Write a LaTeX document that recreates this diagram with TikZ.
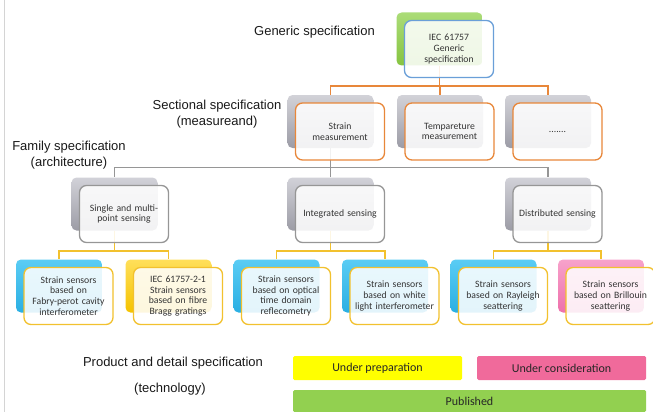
\documentclass[tikz,border=0pt]{standalone}
\usepackage{fontspec}
\setmainfont{Liberation Sans}
\newfontfamily\boxfnt{Carlito}
\pgfdeclarelayer{bg}
\pgfsetlayers{bg,main}
\definecolor{gtop}{HTML}{ABDC78}
\definecolor{gbot}{HTML}{86C440}
\definecolor{graytop}{HTML}{D2D2D8}
\definecolor{graybot}{HTML}{9C9CA6}
\definecolor{btop}{HTML}{5ACCF4}
\definecolor{bbot}{HTML}{2AAFE3}
\definecolor{ytop}{HTML}{FFDF5A}
\definecolor{ybot}{HTML}{F5C300}
\definecolor{ptop}{HTML}{F7A2CB}
\definecolor{pbot}{HTML}{EE70AB}
\definecolor{blueline}{HTML}{6A9FD8}
\definecolor{orangeline}{HTML}{E8873A}
\definecolor{grayline}{HTML}{969696}
\definecolor{yellowline}{HTML}{F2C12E}
\definecolor{legyellow}{HTML}{FFFF00}
\definecolor{legpink}{HTML}{F06A9B}
\definecolor{leggreen}{HTML}{92D050}
\definecolor{framegray}{HTML}{D4D4D4}
\tikzset{
  backbox/.style={rectangle, rounded corners=5pt, minimum width=86pt, minimum height=53pt, inner sep=0pt},
  frontbox/.style={rectangle, rounded corners=7pt, minimum width=89pt, minimum height=57pt,
    fill=white, fill opacity=0.87, text opacity=1, line width=1.3pt, align=center,
    text width=86pt, inner sep=0pt, font=\boxfnt\fontsize{9.7}{10.7}\selectfont, text=black!80},
  greenback/.style={top color=gtop, bottom color=gbot},
  grayback/.style={top color=graytop, bottom color=graybot},
  blueback/.style={top color=btop, bottom color=bbot},
  yellowback/.style={top color=ytop, bottom color=ybot},
  pinkback/.style={top color=ptop, bottom color=pbot},
  orangeconn/.style={draw=orangeline, line width=1.2pt},
  grayconn/.style={draw=grayline, line width=1.2pt},
  yellowconn/.style={draw=yellowline, line width=1.2pt},
  lvl/.style={font=\fontsize{13}{16}\selectfont, align=center, inner sep=0pt, text=black!90},
  legbox/.style={rectangle, rounded corners=1.5pt, inner sep=0pt, minimum height=24pt,
    font=\boxfnt\fontsize{12}{14}\selectfont, text=black!85},
}
\newcommand\twobox[6]{%
  \node[backbox,#4] (#1-b) at (#2,#3) {};
  \node[frontbox,#5] (#1) at ({#2+9.5},{#3+10}) {#6};}
\begin{document}
\begin{tikzpicture}[x=1pt,y=-1pt]
\useasboundingbox (0,0) rectangle (653,412);
\draw[framegray, line width=0.8pt] (4.5,0) -- (4.5,412);

% level labels
\node[lvl] (lg) at (314.5,32) {Generic specification};
\node[lvl] (ls) at (217,114) {Sectional specification\\(measureand)};
\node[lvl] (lf) at (69,155) {Family specification\\(architecture)};
\node[lvl] (lp1) at (173,363) {Product and detail specification};
\node[lvl] (lp2) at (170,389) {(technology)};

% generic
\twobox{g}{439.5}{39}{greenback}{draw=blueline}{IEC 61757\\Generic\\specification}
% sectional
\twobox{s1}{330.5}{121.5}{grayback}{draw=orangeline}{Strain\\measurement}
\twobox{s2}{440}{121.5}{grayback}{draw=orangeline}{Tempareture\\measurement}
\twobox{s3}{548}{121.5}{grayback}{draw=orangeline}{.......}
% family
\twobox{f1}{114.5}{204}{grayback}{draw=grayline}{Single and multi-\\point sensing}
\twobox{f2}{330.5}{204}{grayback}{draw=grayline}{Integrated sensing}
\twobox{f3}{548}{204}{grayback}{draw=grayline}{Distributed sensing}
% leaves
\twobox{p1}{59}{286}{blueback}{draw=yellowline}{Strain sensors\\based on\\Fabry-perot cavity\\interferometer}
\twobox{p2}{168.5}{286}{yellowback}{draw=yellowline}{IEC 61757-2-1\\Strain sensors\\based on fibre\\Bragg gratings}
\twobox{p3}{276.5}{286}{blueback}{draw=yellowline}{Strain sensors\\based on optical\\time domain\\reflecometry}
\twobox{p4}{385}{286}{blueback}{draw=yellowline}{Strain sensors\\based on white\\light interferometer}
\twobox{p5}{493.5}{286}{blueback}{draw=yellowline}{Strain sensors\\based on Rayleigh\\seattering}
\twobox{p6}{601}{286}{pinkback}{draw=yellowline}{Strain sensors\\based on Brillouin\\seattering}

% bus levels
\coordinate (bus1) at (0,86);
\coordinate (bus2) at (0,167.5);
\coordinate (bus3) at (0,251);

\begin{pgfonlayer}{bg}
  \foreach \c in {s1,s2,s3}
    \draw[orangeconn] (g-b.south) -- (g-b.south |- bus1) -| (\c-b.north);
  \foreach \c in {f1,f2,f3}
    \draw[grayconn] (s1-b.south) -- (s1-b.south |- bus2) -| (\c-b.north);
  \foreach \c in {p1,p2}
    \draw[yellowconn] (f1-b.south) -- (f1-b.south |- bus3) -| (\c-b.north);
  \foreach \c in {p3,p4}
    \draw[yellowconn] (f2-b.south) -- (f2-b.south |- bus3) -| (\c-b.north);
  \foreach \c in {p5,p6}
    \draw[yellowconn] (f3-b.south) -- (f3-b.south |- bus3) -| (\c-b.north);
\end{pgfonlayer}

% legend
\node[legbox, fill=legyellow, minimum width=169pt] (up) at (377.5,368) {Under preparation};
\node[legbox, fill=legpink, minimum width=169pt] (uc) at (561.5,368) {Under consideration};
\node[legbox, fill=leggreen, minimum width=353pt, minimum height=22pt] (pub) at (469.5,401) {Published};
\end{tikzpicture}
\end{document}
